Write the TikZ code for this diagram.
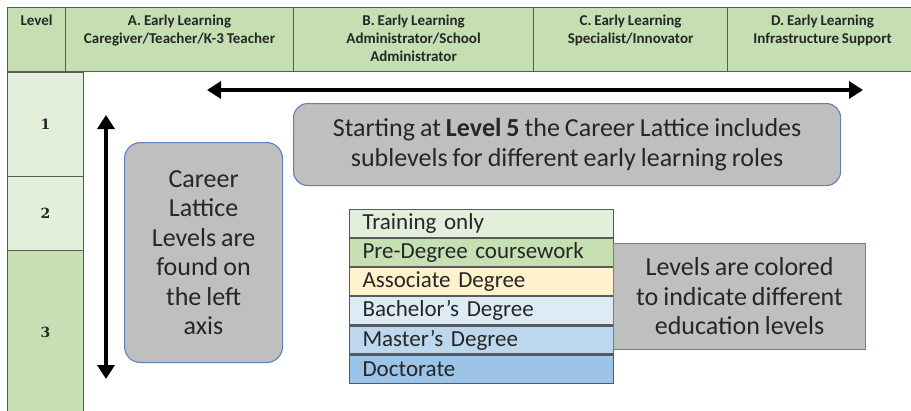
\documentclass[tikz,border=0pt]{standalone}
\usepackage{fontspec}
\setmainfont{Carlito}[WordSpace=0.85]
\newfontfamily\numfont{DejaVu Serif}
\usetikzlibrary{arrows.meta}
\definecolor{hdr}{HTML}{C5DFB3}
\definecolor{lgreen}{HTML}{E2EFDA}
\definecolor{mgreen}{HTML}{C6E0B4}
\definecolor{lyellow}{HTML}{FFF2CC}
\definecolor{lblue}{HTML}{DDEBF7}
\definecolor{mblue}{HTML}{BDD7EE}
\definecolor{dblue}{HTML}{9DC3E6}
\definecolor{boxgray}{HTML}{BFBFBF}
\definecolor{boxedge}{HTML}{5F82BE}
\definecolor{cellline}{HTML}{5A5A5A}
\definecolor{txt}{HTML}{262626}
\tikzset{
  cell/.style={draw=cellline, line width=1.1pt, inner sep=0pt, anchor=north west},
  hdrtext/.style={font=\fontsize{15}{18}\selectfont\bfseries, text=txt, align=center, anchor=north, inner sep=0pt},
  lvltext/.style={font=\numfont\bfseries\fontsize{14}{16}\selectfont, text=txt},
  graybox/.style={draw=boxedge, line width=1.1pt, fill=boxgray, inner sep=0pt, anchor=north west, align=center, text=txt, font=\fontsize{26}{29.5}\selectfont},
  legrow/.style={draw=cellline, line width=1.1pt, inner ysep=0pt, inner xsep=13pt, anchor=north west, text width=238pt, minimum height=28pt, align=left, text=txt, font=\fontsize{23}{25}\selectfont},
  bigarrow/.style={line width=4pt, {Triangle[length=14pt,width=17pt]}-{Triangle[length=14pt,width=17pt]}}
}
\begin{document}
\begin{tikzpicture}[x=1pt,y=-1pt]
\useasboundingbox (0,0) rectangle (911,410);
% header
\node[cell, fill=hdr, minimum width=58pt, minimum height=64pt] (hL) at (7,7) {};
\node[cell, fill=hdr, minimum width=228pt, minimum height=64pt] (hA) at (65,7) {};
\node[cell, fill=hdr, minimum width=240pt, minimum height=64pt] (hB) at (293,7) {};
\node[cell, fill=hdr, minimum width=194pt, minimum height=64pt] (hC) at (533,7) {};
\node[cell, fill=hdr, minimum width=190pt, minimum height=64pt] (hD) at (727,7) {};
\node[hdrtext] (tL) at ([yshift=-8pt]hL.north) {Level};
\node[hdrtext] (tA) at ([yshift=-8pt]hA.north) {A. Early Learning\\Caregiver/Teacher/K-3 Teacher};
\node[hdrtext] (tB) at ([yshift=-8pt]hB.north) {B. Early Learning\\Administrator/School\\Administrator};
\node[hdrtext] (tC) at ([yshift=-8pt]hC.north) {C. Early Learning\\Specialist/Innovator};
\node[hdrtext] (tD) at ([yshift=-8pt]hD.north) {D. Early Learning\\Infrastructure Support};
% level column
\node[cell, fill=lgreen, minimum width=76pt, minimum height=104pt, lvltext] (l1) at (7,72) {1};
\node[cell, fill=lgreen, minimum width=76pt, minimum height=74pt, lvltext] (l2) at (7,176) {2};
\node[cell, fill=mgreen, minimum width=76pt, minimum height=164pt, lvltext] (l3) at (7,250) {3};
% arrows
\coordinate (hs) at (207,90);
\coordinate (he) at (863,90);
\draw[bigarrow] (hs) -- (he);
\coordinate (vs) at (106,115);
\coordinate (ve) at (106,379);
\draw[bigarrow] (vs) -- (ve);
% boxes
\node[graybox, rounded corners=14pt, minimum width=547pt, minimum height=82pt] (top) at (293,103)
  {Starting at \textbf{Level 5} the Career Lattice includes\\sublevels for different early learning roles};
\node[graybox, rounded corners=16pt, minimum width=158pt, minimum height=220pt] (left) at (124,142)
  {Career\\Lattice\\Levels are\\found on\\the left\\axis};
% legend
\node[legrow, fill=lgreen] (r1) at (349,209) {Training only};
\node[legrow, fill=mgreen] (r2) at (r1.south west) {Pre-Degree coursework};
\node[legrow, fill=lyellow] (r3) at (r2.south west) {Associate Degree};
\node[legrow, fill=lblue] (r4) at (r3.south west) {Bachelor’s Degree};
\node[legrow, fill=mblue] (r5) at (r4.south west) {Master’s Degree};
\node[legrow, fill=dblue] (r6) at (r5.south west) {Doctorate};
\node[graybox, minimum width=252pt, minimum height=106pt] (right) at (613,243)
  {Levels are colored\\to indicate different\\education levels};
\end{tikzpicture}
\end{document}
